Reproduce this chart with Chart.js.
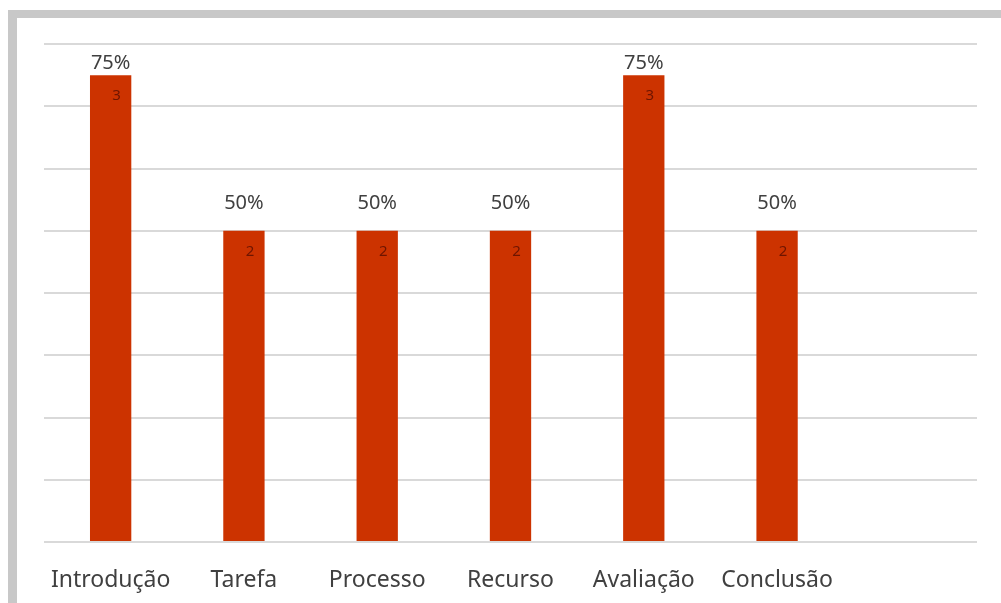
<!DOCTYPE html>
<html>
<head>
<meta charset="utf-8">
<script src="https://cdn.jsdelivr.net/npm/chart.js@4/dist/chart.umd.min.js"></script>
<style>
  html, body { margin: 0; padding: 0; background: #fff; }
  #frame {
    position: absolute; left: 8px; top: 10px; width: 993px; height: 593px;
    border-top: 8px solid #c8c8c8; border-left: 9px solid #c8c8c8;
    box-sizing: border-box;
  }
  #wrap { position: absolute; left: 0; top: 0; width: 1001px; height: 603px; }
</style>
</head>
<body>
<div id="frame"></div>
<div id="wrap"><canvas id="barChart"></canvas></div>
<script>
// categories (last slot is empty, the plot keeps room for it)
const categories = ["Introdução", "Tarefa", "Processo", "Recurso", "Avaliação", "Conclusão", ""];
const shares = [0.75, 0.5, 0.5, 0.5, 0.75, 0.5, null];
const counts = [3, 2, 2, 2, 3, 2, null];

const barColor = "#cc3300";

// draws the percent above each bar and the count inside it
const valueLabels = {
    id: "valueLabels",
    afterDatasetsDraw(chart) {
        const ctx = chart.ctx;
        const meta = chart.getDatasetMeta(0);
        const top = chart.chartArea.top;
        ctx.save();
        ctx.textAlign = "center";
        ctx.textBaseline = "middle";
        meta.data.forEach((bar, i) => {
            if (shares[i] == null) return;
            ctx.font = "20px 'Noto Sans', sans-serif";
            ctx.fillStyle = "#404040";
            const py = Math.max(bar.y - 27, top + 19);
            ctx.fillText(Math.round(shares[i] * 100) + "%", bar.x, py);
            ctx.font = "15px 'Noto Sans', sans-serif";
            ctx.fillStyle = "#6e1500";
            ctx.fillText(String(counts[i]), bar.x + 6, bar.y + 21);
        });
        ctx.restore();
    }
};

new Chart(document.getElementById("barChart").getContext("2d"), {
    type: "bar",
    data: {
        labels: categories,
        datasets: [{ data: shares, backgroundColor: barColor, categoryPercentage: 1, barPercentage: 0.31 }]
    },
    options: {
        responsive: true,
        maintainAspectRatio: false,
        animation: false,
        layout: { padding: { left: 44, top: 44, right: 24, bottom: 0 } },
        plugins: { legend: { display: false }, tooltip: { enabled: false } },
        scales: {
            x: {
                grid: { display: false },
                border: { display: false },
                ticks: { color: "#404040", font: { family: "'Noto Sans', sans-serif", size: 23 }, padding: 17, maxRotation: 0, autoSkip: false },
                afterFit: s => { s.height = 61; }
            },
            y: {
                min: 0, max: 0.8,
                ticks: { display: false, stepSize: 0.1 },
                grid: { color: "#d9d9d9", lineWidth: 2, drawTicks: false },
                border: { display: false },
                afterFit: s => { s.width = 0; }
            }
        }
    },
    plugins: [valueLabels]
});
</script>
</body>
</html>
